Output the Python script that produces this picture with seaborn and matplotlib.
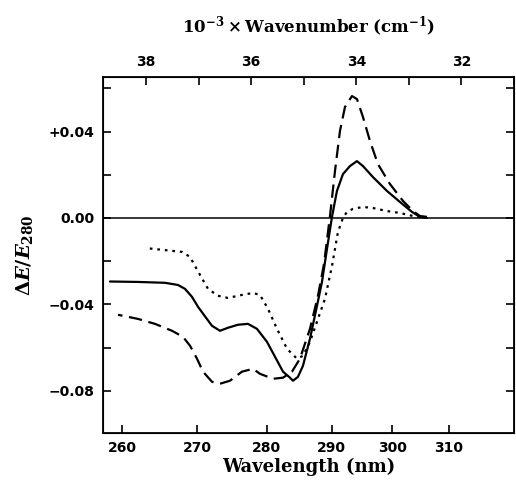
import matplotlib
matplotlib.use('Agg')
import matplotlib.pyplot as plt
import seaborn as sns
import numpy as np
import pandas as pd

# difference spectra
# x: 10^-3 x wavenumber (cm^-1), y: dE/E280
solid_wn = [38.687, 38.156, 37.643, 37.397, 37.264, 37.131, 37.017, 36.879, 36.751, 36.600,
            36.448, 36.258, 36.068, 35.898, 35.708, 35.556, 35.404, 35.271, 35.214, 35.120,
            35.025, 34.892, 34.759, 34.664, 34.569, 34.474, 34.380, 34.266, 34.133, 34.000,
            33.886, 33.696, 33.431, 33.184, 32.956, 32.805, 32.672]
solid_val = [-0.0294, -0.0296, -0.0300, -0.0310, -0.0328, -0.0365, -0.0411, -0.0457, -0.0499, -0.0522,
             -0.0508, -0.0494, -0.0490, -0.0513, -0.0573, -0.0642, -0.0711, -0.0739, -0.0753, -0.0735,
             -0.0684, -0.0559, -0.0407, -0.0296, -0.0143, 0.0005, 0.0125, 0.0203, 0.0240, 0.0263,
             0.0240, 0.0189, 0.0125, 0.0074, 0.0028, 0.0005, 0.0]

dash_wn = [38.535, 38.156, 37.833, 37.510, 37.302, 37.169, 37.036, 36.922, 36.751, 36.600,
           36.410, 36.182, 35.973, 35.841, 35.594, 35.404, 35.233, 35.082, 34.892, 34.740,
           34.626, 34.512, 34.417, 34.323, 34.228, 34.095, 34.000, 33.886, 33.753, 33.602,
           33.374, 33.127, 32.937, 32.805, 32.672]
dash_val = [-0.0448, -0.0467, -0.0490, -0.0522, -0.0550, -0.0591, -0.0651, -0.0711, -0.0758, -0.0767,
            -0.0753, -0.0711, -0.0698, -0.0721, -0.0744, -0.0739, -0.0711, -0.0651, -0.0513, -0.0360,
            -0.0213, 0.0009, 0.0217, 0.0402, 0.0513, 0.0564, 0.0550, 0.0467, 0.0356, 0.0249,
            0.0157, 0.0079, 0.0032, 0.0009, 0.0005]

dot_wn = [38.023, 37.321, 37.169, 37.074, 36.936, 36.827, 36.638, 36.448, 36.182, 35.973,
          35.841, 35.689, 35.518, 35.328, 35.139, 35.025, 34.892, 34.607, 34.474, 34.361,
          34.266, 34.190, 34.076, 33.886, 33.696, 33.431, 33.184, 32.937, 32.805]
dot_val = [-0.0139, -0.0157, -0.0180, -0.0222, -0.0282, -0.0328, -0.0360, -0.0370, -0.0356, -0.0347,
           -0.0356, -0.0420, -0.0513, -0.0605, -0.0651, -0.0638, -0.0573, -0.0374, -0.0222, -0.0065,
           0.0, 0.0028, 0.0042, 0.0051, 0.0046, 0.0032, 0.0023, 0.0009, 0.0005]

wl_ticks = [260, 270, 280, 290, 300, 310]
wn_ticks = [31, 32, 33, 34, 35, 36, 37, 38]
y_ticks = [-0.08, -0.06, -0.04, -0.02, 0.0, 0.02, 0.04, 0.06]
y_labels = ['\u22120.08', '', '\u22120.04', '', '0.00', '', '+0.04', '']

sns.set_style('ticks', {'axes.edgecolor': 'black', 'text.color': 'black',
                        'xtick.color': 'black', 'ytick.color': 'black',
                        'axes.labelcolor': 'black'})
plt.rcParams['font.family'] = ['DejaVu Sans']
plt.rcParams['mathtext.fontset'] = 'custom'
plt.rcParams['mathtext.rm'] = 'DejaVu Serif:bold'
plt.rcParams['mathtext.it'] = 'DejaVu Serif:italic:bold'
plt.rcParams['mathtext.bf'] = 'DejaVu Serif:bold'

fig = plt.figure(figsize=(5.16, 4.86), dpi=100)
ax = fig.add_axes([0.1996, 0.109, 0.7965, 0.7325])

df_solid = pd.DataFrame({'wn': solid_wn, 'val': solid_val})
df_dash = pd.DataFrame({'wn': dash_wn, 'val': dash_val})
df_dot = pd.DataFrame({'wn': dot_wn, 'val': dot_val})

ax.axhline(0, color='black', lw=1.1, zorder=1)
sns.lineplot(data=df_solid, x='wn', y='val', ax=ax, color='black', lw=1.6, estimator=None)
sns.lineplot(data=df_dash, x='wn', y='val', ax=ax, color='black', lw=1.6, estimator=None,
             linestyle=(0, (6, 3)))
sns.lineplot(data=df_dot, x='wn', y='val', ax=ax, color='black', lw=1.6, estimator=None,
             linestyle=(0, (1.2, 2.2)))

ax.set_xlim(38.82, 31.02)
ax.set_ylim(-0.0995, 0.0652)

# bottom axis: wavelength labels placed at their wavenumber positions
ax.set_xticks([1e4 / w for w in wl_ticks])
ax.set_xticklabels([str(w) for w in wl_ticks])
ax.set_yticks(y_ticks)
ax.set_yticklabels(y_labels)
ax.tick_params(direction='in', length=6, width=1.2, labelsize=10, right=True, pad=6)
for lbl in ax.get_xticklabels() + ax.get_yticklabels():
    lbl.set_fontweight('bold')
for sp in ax.spines.values():
    sp.set_linewidth(1.3)

ax.set_xlabel('Wavelength (nm)', fontsize=13, fontweight='bold', family='DejaVu Serif', labelpad=2)
ax.set_ylabel(r'$\Delta E/E_{280}$', fontsize=14, labelpad=10)

top = ax.twiny()
top.set_xlim(ax.get_xlim())
top.set_xticks(wn_ticks)
top.set_xticklabels([str(t) if t % 2 == 0 else '' for t in wn_ticks])
top.tick_params(direction='in', length=6, width=1.2, labelsize=10, pad=6)
for lbl in top.get_xticklabels():
    lbl.set_fontweight('bold')
top.set_xlabel(r'$10^{-3}\times$Wavenumber (cm$^{-1}$)', fontsize=12, fontweight='bold',
               family='DejaVu Serif', labelpad=16)

fig.savefig('out.png', dpi=100)
